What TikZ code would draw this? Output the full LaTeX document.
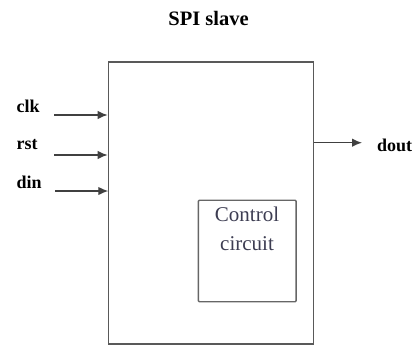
\documentclass[tikz,border=0pt]{standalone}
\usepackage{fontspec}
\setmainfont{Liberation Serif}
\usetikzlibrary{arrows.meta}
\definecolor{cctext}{rgb}{0.24,0.24,0.32}
\begin{document}
\begin{tikzpicture}[x=1pt,y=-1pt,
  blk/.style={draw=black!65,line width=1.5pt},
  sub/.style={draw=black!60,line width=1.4pt,rounded corners=1pt},
  sig/.style={draw=black!75,line width=1.3pt,-{Latex[length=10pt,width=8.5pt]}},
  lbl/.style={font=\fontsize{18}{21}\selectfont\bfseries,inner sep=0pt,anchor=west},
  ttl/.style={font=\fontsize{20.5}{24}\selectfont\bfseries,inner sep=0pt}]
\useasboundingbox (0,0) rectangle (420,346);
\node[blk,minimum width=205pt,minimum height=282.2pt,inner sep=0pt] (main) at (210.8,202.9) {};
\node[sub,minimum width=97.7pt,minimum height=101.5pt,inner sep=0pt] (cc) at (247.2,251) {};
\node[font=\fontsize{21}{28.5}\selectfont,text=cctext,align=center,anchor=north,inner sep=0pt] (cct) at (247,207) {Control\\circuit};
\node[ttl] (title) at (208.5,18.5) {SPI slave};
\node[lbl] (clk) at (16.5,106.5) {clk};
\node[lbl] (rst) at (16.5,145) {rst};
\node[lbl] (din) at (16.5,182.5) {din};
\node[lbl] (dout) at (377,145.5) {dout};
\coordinate (clks) at (54,115);
\coordinate (clke) at (107.6,115);
\coordinate (rsts) at (54,155);
\coordinate (rste) at (107.6,155);
\coordinate (dins) at (55,191);
\coordinate (dine) at (108.3,191);
\coordinate (douts) at (main.east |- 0,142.7);
\coordinate (doute) at (362,142.7);
\draw[sig] (clks) -- (clke);
\draw[sig] (rsts) -- (rste);
\draw[sig] (dins) -- (dine);
\draw[sig] (douts) -- (doute);
\end{tikzpicture}
\end{document}
